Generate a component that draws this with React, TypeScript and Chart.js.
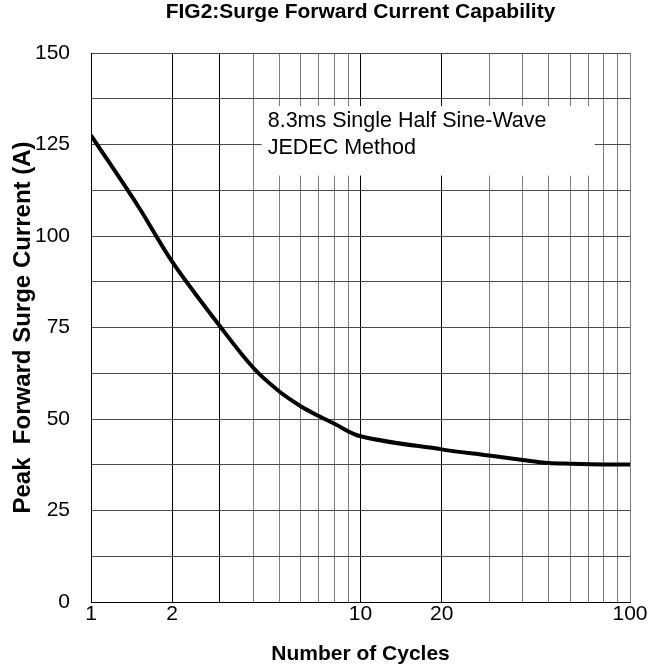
import React, { useEffect, useRef } from "react";
import { Chart, registerables } from "chart.js";

Chart.register(...registerables);

// ---- data ----
const cycles = [1, 1.5, 2, 3, 4, 5, 6, 7, 8, 10, 20, 30, 40, 50, 60, 80, 100];
const current = [127.5, 108, 93, 75.5, 64, 57.5, 53.5, 50.8, 48.7, 45.3, 41.7, 40, 38.8, 38, 37.8, 37.6, 37.6];

const xGridValues = [1, 2, 3, 4, 5, 6, 7, 8, 9, 10, 20, 30, 40, 50, 60, 70, 80, 90, 100];
const xLabelValues = [1, 2, 10, 20, 100];
const xStrongValues = [2, 3, 10, 20];
const yLabelStep = 25;
const yGridStep = 12.5;

const titleText = "FIG2:Surge Forward Current Capability";
const xTitle = "Number of Cycles";
const yTitle = "Peak  Forward Surge Current (A)";
const noteLines = ["8.3ms Single Half Sine-Wave", "JEDEC Method"];
const noteBoxX = [4.3, 74];
const noteBoxY = [116.5, 135.5];

const FONT = "'Liberation Sans', Arial, Helvetica, sans-serif";

export default function App() {
  const ref = useRef<HTMLCanvasElement | null>(null);

  useEffect(() => {
    const canvas = ref.current;
    if (!canvas) return;

    const notePlugin = {
      id: "note",
      afterDatasetsDraw(chart: any) {
        const { ctx } = chart;
        const x = chart.scales.x;
        const y = chart.scales.y;
        const l = x.getPixelForValue(noteBoxX[0]);
        const r = x.getPixelForValue(noteBoxX[1]);
        const t = y.getPixelForValue(noteBoxY[1]);
        const b = y.getPixelForValue(noteBoxY[0]);
        ctx.save();
        ctx.fillStyle = "#ffffff";
        ctx.fillRect(l, t, r - l, b - t);
        ctx.fillStyle = "#000000";
        ctx.font = `21.5px ${FONT}`;
        ctx.textAlign = "left";
        ctx.textBaseline = "alphabetic";
        noteLines.forEach((s, i) => ctx.fillText(s, l + 6, t + 21 + i * 27));
        ctx.restore();
      },
    };

    Chart.defaults.font.family = FONT;
    Chart.defaults.color = "#000";

    const chart = new Chart(canvas, {
      type: "line",
      data: {
        datasets: [
          {
            data: cycles.map((c, i) => ({ x: c, y: current[i] })),
            borderColor: "#000",
            borderWidth: 4,
            pointRadius: 0,
            tension: 0.35,
            fill: false,
          },
        ],
      },
      options: {
        responsive: false,
        animation: false,
        devicePixelRatio: 1,
        layout: { padding: { left: 0, right: 25, top: 0, bottom: 0 } },
        plugins: {
          legend: { display: false },
          tooltip: { enabled: false },
          title: {
            display: true,
            text: titleText,
            fullSize: false,
            color: "#000",
            font: { size: 21, weight: "bold", family: FONT, lineHeight: 1.2 },
            padding: { top: 0, bottom: 27.8 },
          },
        },
        scales: {
          x: {
            type: "logarithmic",
            min: 1,
            max: 100,
            afterBuildTicks: (s: any) => {
              s.ticks = xGridValues.map((v) => ({ value: v }));
            },
            afterFit: (s: any) => {
              s.height = 67;
            },
            ticks: {
              autoSkip: false,
              maxRotation: 0,
              padding: 0,
              color: "#000",
              font: { size: 21, family: FONT },
              callback: (v: any) => (xLabelValues.includes(Number(v)) ? String(v) : ""),
            },
            grid: {
              drawTicks: false,
              lineWidth: 1,
              color: (c: any) => (xStrongValues.includes(c.tick?.value) ? "#000" : "#7a7a7a"),
            },
            border: { display: true, color: "#000", width: 1 },
            title: {
              display: true,
              text: xTitle,
              color: "#000",
              font: { size: 21, weight: "bold", family: FONT, lineHeight: 1.2 },
              padding: { top: 0, bottom: 2.4 },
            },
          },
          y: {
            type: "linear",
            min: 0,
            max: 150,
            afterFit: (s: any) => {
              s.width = 91;
            },
            ticks: {
              stepSize: yGridStep,
              padding: 21,
              color: "#000",
              font: { size: 21, family: FONT },
              callback: (v: any) => (Number(v) % yLabelStep === 0 ? String(v) : ""),
            },
            grid: { drawTicks: false, lineWidth: 1, color: "#4a4a4a" },
            border: { display: true, color: "#000", width: 1 },
            title: {
              display: true,
              text: yTitle,
              color: "#000",
              font: { size: 24, weight: "bold", family: FONT, lineHeight: 1.2 },
              padding: { top: 9, bottom: 0 },
            },
          },
        },
      },
      plugins: [notePlugin],
    } as any);

    return () => chart.destroy();
  }, []);

  return (
    <div style={{ position: "absolute", left: 0, top: 0, width: 655, height: 669, background: "#fff" }}>
      <canvas ref={ref} width={655} height={669} style={{ width: 655, height: 669, display: "block" }} />
    </div>
  );
}
